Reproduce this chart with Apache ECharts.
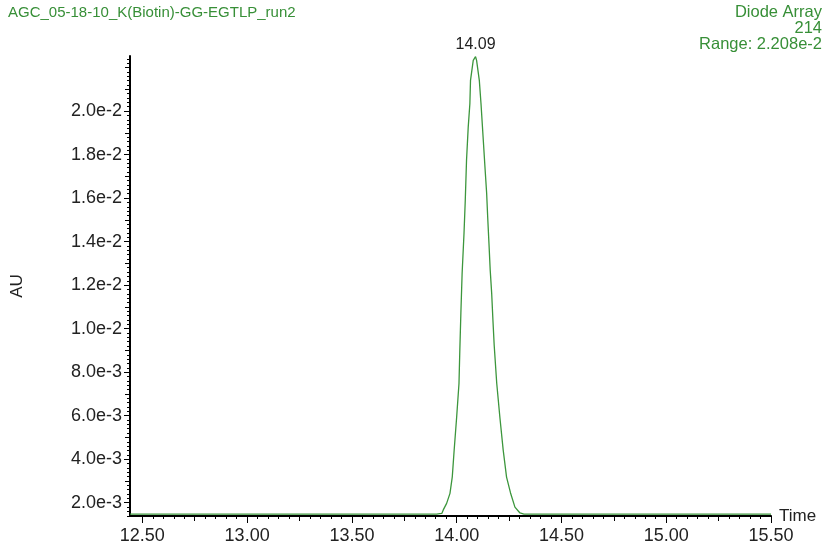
<!DOCTYPE html>
<html>
<head>
<meta charset="utf-8">
<title>AGC_05-18-10_K(Biotin)-GG-EGTLP_run2</title>
<script src="https://cdn.jsdelivr.net/npm/echarts@6/dist/echarts.min.js"></script>
<style>
  html, body { margin: 0; padding: 0; background: #ffffff; }
  #chart { width: 828px; height: 545px; }
</style>
</head>
<body>
<div id="chart"></div>
<script>
// Chromatogram trace: retention time (min) and absorbance (AU)
const timeMin = [
  12.441, 12.75, 13.00, 13.25, 13.50, 13.75, 13.905,
  13.918, 13.923, 13.929, 13.936, 13.952, 13.968, 13.979, 13.988,
  14.000, 14.011, 14.015, 14.020, 14.026, 14.035, 14.041, 14.047,
  14.055, 14.063, 14.066, 14.079, 14.090, 14.095, 14.108, 14.116,
  14.127, 14.135, 14.143, 14.148, 14.154, 14.160, 14.167, 14.173,
  14.179, 14.191, 14.206, 14.222, 14.238, 14.257, 14.278, 14.302,
  14.321, 14.50, 14.75, 15.00, 15.25, 15.50
];
const absorbance = [
  0.00148, 0.00148, 0.00148, 0.00148, 0.00148, 0.00148, 0.00148,
  0.00150, 0.00156, 0.00151, 0.00167, 0.00197, 0.00243, 0.00319, 0.00442,
  0.00595, 0.00748, 0.00901, 0.01071, 0.01255, 0.01438, 0.01590, 0.01774,
  0.01925, 0.02035, 0.02141, 0.02233, 0.02250, 0.02233, 0.02141, 0.02035,
  0.01866, 0.01742, 0.01622, 0.01512, 0.01393, 0.01269, 0.01163, 0.01039,
  0.00924, 0.00750, 0.00594, 0.00442, 0.00318, 0.00245, 0.00180, 0.00153,
  0.00148, 0.00148, 0.00148, 0.00148, 0.00148, 0.00148
];

// Axis ranges and labelled ticks
const timeRange = [12.441, 15.5];
const auRange = [0.00139, 0.02253];
const timeTickLabels = [12.5, 13.0, 13.5, 14.0, 14.5, 15.0, 15.5];
const auTickLabels = [0.002, 0.004, 0.006, 0.008, 0.010, 0.012, 0.014, 0.016, 0.018, 0.020];

// Header text
const sampleName = 'AGC_05-18-10_K(Biotin)-GG-EGTLP_run2';
const detectorLines = ['Diode Array', '214', 'Range: 2.208e-2'];

function stepValues(start, end, step, digits) {
  const out = [];
  const n = Math.round((end - start) / step);
  for (let i = 0; i <= n; i++) out.push(+(start + i * step).toFixed(digits));
  return out;
}
const timeMidTicks = stepValues(12.5, 15.5, 0.25, 2);
const timeMinorTicks = stepValues(12.5, 15.5, 0.05, 2);
const auMidTicks = stepValues(0.002, 0.022, 0.001, 4);
const auMinorTicks = stepValues(0.0014, 0.0224, 0.0002, 4);

const series = timeMin.map((t, i) => [t, absorbance[i]]);
let peakIdx = 0;
absorbance.forEach((v, i) => { if (v > absorbance[peakIdx]) peakIdx = i; });

const green = '#378f37';
const lineGreen = '#3c963c';
const ink = '#222222';
const font = 'Liberation Sans, Arial, sans-serif';

function tickAxis(base, ticks, len) {
  return Object.assign({
    type: 'value',
    axisLine: { show: false },
    axisTick: { show: true, length: len, customValues: ticks, lineStyle: { color: '#000', width: 1 } },
    axisLabel: { show: false },
    splitLine: { show: false }
  }, base);
}

const headerStyle = { color: green, fontSize: 16.5, fontWeight: 'normal', fontFamily: font };
const chart = echarts.init(document.getElementById('chart'), null, { renderer: 'canvas' });
chart.setOption({
  animation: false,
  backgroundColor: '#ffffff',
  title: [
    { text: sampleName, left: 8, top: 5, padding: 0,
      textStyle: Object.assign({}, headerStyle, { fontSize: 15 }) }
  ].concat(detectorLines.map((line, i) => ({
    text: line, right: 6, top: 4 + i * 16, padding: 0, textStyle: headerStyle
  }))),
  grid: { left: 130, right: 57, top: 56, bottom: 29 },
  xAxis: [
    {
      type: 'value', min: timeRange[0], max: timeRange[1], position: 'bottom',
      name: 'Time', nameLocation: 'end', nameGap: 8,
      nameTextStyle: { color: ink, fontSize: 17, fontFamily: font, verticalAlign: 'middle' },
      axisLine: { show: true, lineStyle: { color: '#000', width: 2 } },
      axisTick: { show: true, length: 7, customValues: timeTickLabels, lineStyle: { color: '#000', width: 1 } },
      axisLabel: { show: true, customValues: timeTickLabels, margin: 11, color: ink, fontSize: 18, fontFamily: font,
        formatter: v => v.toFixed(2) },
      splitLine: { show: false }
    },
    tickAxis({ min: timeRange[0], max: timeRange[1], position: 'bottom' }, timeMidTicks, 5),
    tickAxis({ min: timeRange[0], max: timeRange[1], position: 'bottom' }, timeMinorTicks, 3)
  ],
  yAxis: [
    {
      type: 'value', min: auRange[0], max: auRange[1], position: 'left',
      name: 'AU', nameLocation: 'middle', nameGap: 104,
      nameTextStyle: { color: ink, fontSize: 17, fontFamily: font },
      axisLine: { show: true, lineStyle: { color: '#000', width: 2 } },
      axisTick: { show: true, length: 6, customValues: auTickLabels, lineStyle: { color: '#000', width: 1 } },
      axisLabel: { show: true, customValues: auTickLabels, margin: 8, color: ink, fontSize: 18, fontFamily: font,
        formatter: v => v.toExponential(1) },
      splitLine: { show: false }
    },
    tickAxis({ min: auRange[0], max: auRange[1], position: 'left' }, auMidTicks, 5),
    tickAxis({ min: auRange[0], max: auRange[1], position: 'left' }, auMinorTicks, 3)
  ],
  series: [{
    type: 'line',
    xAxisIndex: 0, yAxisIndex: 0,
    data: series,
    showSymbol: false,
    silent: true,
    lineStyle: { color: lineGreen, width: 1.3 },
    markPoint: {
      symbol: 'circle', symbolSize: 1,
      itemStyle: { color: 'rgba(0,0,0,0)' },
      label: { show: true, position: 'top', distance: 4, color: ink, fontSize: 16, fontFamily: font,
        formatter: p => p.data.coord[0].toFixed(2) },
      data: [{ coord: series[peakIdx] }]
    }
  }]
});
</script>
</body>
</html>
